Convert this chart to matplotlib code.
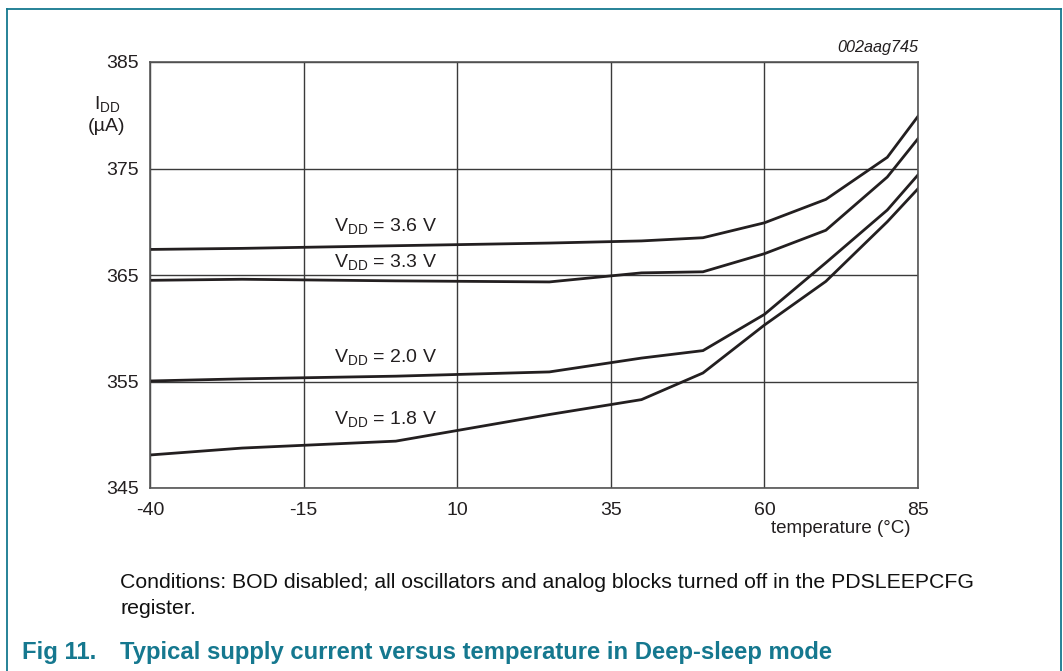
import matplotlib
matplotlib.use('Agg')
import matplotlib.pyplot as plt
from matplotlib.lines import Line2D

# Данные (температура, ток потребления в мкА)
temperature = [-40, -25, 0, 25, 40, 50, 60, 70, 80, 85]
idd_36 = [367.4, 367.5, 367.75, 368.0, 368.2, 368.5, 369.9, 372.1, 376.05, 379.9]
idd_33 = [364.5, 364.6, 364.45, 364.35, 365.2, 365.3, 367.0, 369.2, 374.2, 377.8]
idd_20 = [355.05, 355.25, 355.5, 355.9, 357.2, 357.9, 361.3, 366.15, 371.1, 374.4]
idd_18 = [348.1, 348.75, 349.4, 351.9, 353.3, 355.8, 360.3, 364.4, 370.0, 373.1]

series_labels = ['3.6 V', '3.3 V', '2.0 V', '1.8 V']
label_pos = [(-10, 369.6), (-10, 366.2), (-10, 357.3), (-10, 351.5)]

x_ticks = [-40, -15, 10, 35, 60, 85]
y_ticks = [345, 355, 365, 375, 385]

TEAL = '#15788f'
LINE = '#231f20'


def setup_fonts():
    """Шрифт похожий на Arial и обычные подстрочные индексы."""
    plt.rcParams['font.family'] = ['Liberation Sans', 'DejaVu Sans']
    plt.rcParams['mathtext.default'] = 'regular'


def draw_frame(fig):
    """Рамка вокруг рисунка (открытая снизу)."""
    x0, x1 = 7 / 1063, 1061 / 1063
    y_top = 1 - 9 / 671
    for xs, ys in [([x0, x1], [y_top, y_top]),
                   ([x0, x0], [0, y_top]),
                   ([x1, x1], [0, y_top])]:
        fig.add_artist(Line2D(xs, ys, transform=fig.transFigure,
                              color=TEAL, lw=1.3))


def plot_curves(ax):
    for values in [idd_36, idd_33, idd_20, idd_18]:
        ax.plot(temperature, values, color=LINE, lw=2.0, solid_joinstyle='miter')

    for text, (tx, ty) in zip(series_labels, label_pos):
        ax.text(tx, ty, f'V$_{{DD}}$ = {text}', fontsize=14, color=LINE,
                ha='left', va='center')


def configure_axes(ax):
    ax.set_xlim(-40, 85)
    ax.set_ylim(345, 385)
    ax.set_xticks(x_ticks)
    ax.set_yticks(y_ticks)
    ax.set_xticklabels([str(t) for t in x_ticks])
    ax.set_yticklabels([str(t) for t in y_ticks])
    ax.tick_params(length=0, labelsize=14, labelcolor=LINE, pad=8)
    ax.tick_params(axis='x', pad=10)
    ax.grid(True, color='#3a3a3a', lw=1.0)
    for spine in ax.spines.values():
        spine.set_color('#555555')
        spine.set_linewidth(1.2)

    # Подписи осей
    ax.text(-0.056, 0.901, 'I$_{DD}$', transform=ax.transAxes, fontsize=14,
            ha='center', va='center', color=LINE)
    ax.text(-0.056, 0.849, '(µA)', transform=ax.transAxes, fontsize=14,
            ha='center', va='center', color=LINE)
    ax.text(0.99, -0.094, 'temperature (°C)', transform=ax.transAxes,
            fontsize=13.5, ha='right', va='center', color=LINE)
    ax.text(1.0, 1.033, '002aag745', transform=ax.transAxes, fontsize=11.7,
            ha='right', va='center', style='italic', color=LINE)


def main():
    setup_fonts()
    fig = plt.figure(figsize=(10.63, 6.71), dpi=100)
    ax = fig.add_axes([150 / 1063, 1 - 488 / 671, 768 / 1063, 426 / 671])

    plot_curves(ax)
    configure_axes(ax)
    draw_frame(fig)

    fig.text(120 / 1063, 1 - 582 / 671,
             'Conditions: BOD disabled; all oscillators and analog blocks '
             'turned off in the PDSLEEPCFG', fontsize=15.3, va='center', color='#111111')
    fig.text(120 / 1063, 1 - 608 / 671, 'register.', fontsize=15.3,
             va='center', color='#111111')
    fig.text(22 / 1063, 1 - 652 / 671, 'Fig 11.',
             fontsize=17.2, fontweight='bold', va='center', color=TEAL)
    fig.text(120 / 1063, 1 - 652 / 671,
             'Typical supply current versus temperature in Deep-sleep mode',
             fontsize=17.2, fontweight='bold', va='center', color=TEAL)

    fig.savefig('out.png', dpi=100)


if __name__ == '__main__':
    main()
